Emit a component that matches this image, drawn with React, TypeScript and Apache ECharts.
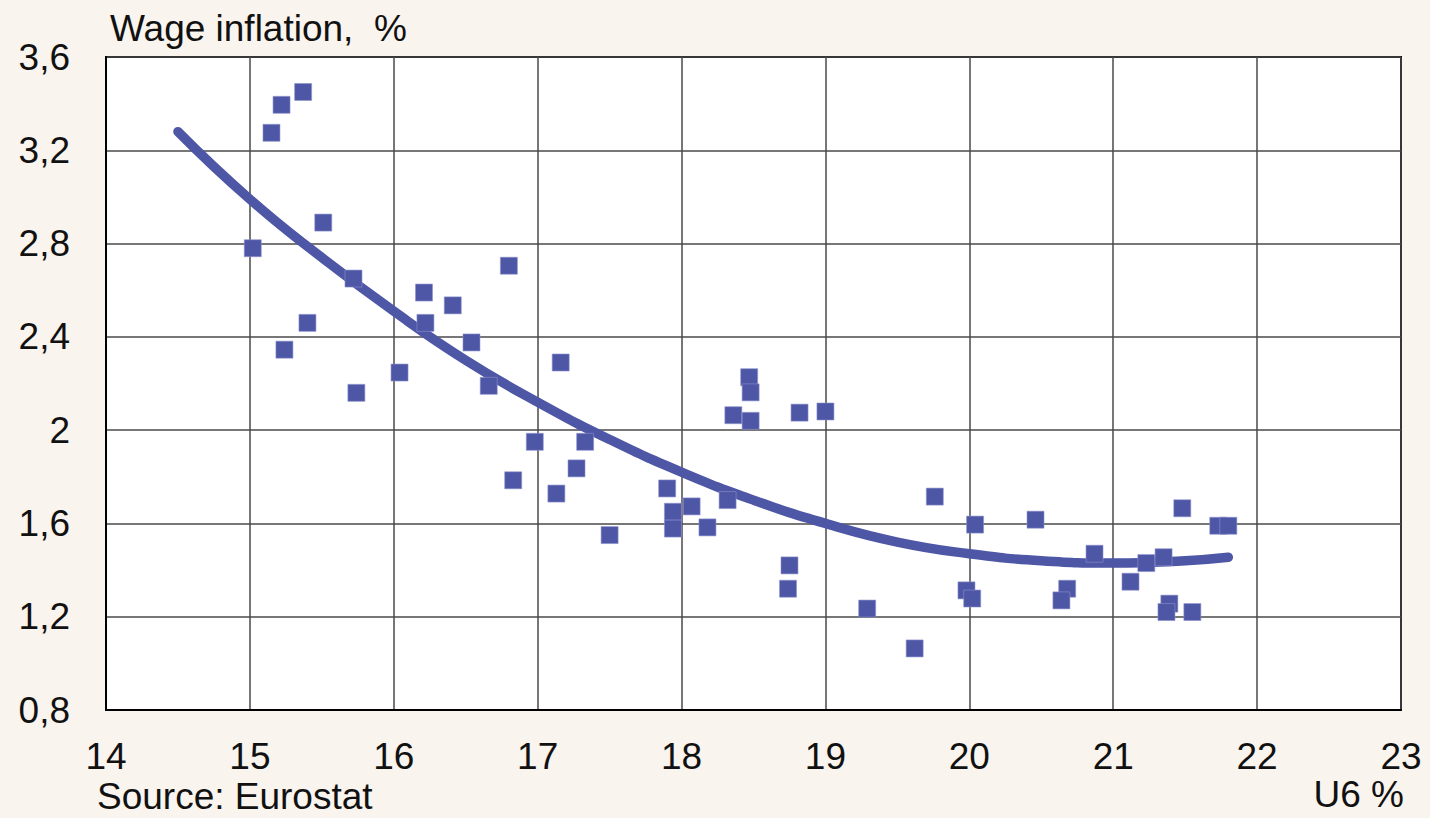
import React, { useEffect, useRef } from "react";
import * as echarts from "echarts";

// U6 unemployment (%) vs wage inflation (%)
const u6Values: number[] = [
  15.02, 15.15, 15.22, 15.37, 15.24, 15.40, 15.51, 15.72, 15.74, 16.04,
  16.21, 16.22, 16.41, 16.54, 16.66, 16.80, 16.83, 16.98, 17.13, 17.16,
  17.27, 17.33, 17.50, 17.90, 17.94, 17.94, 18.07, 18.18, 18.32, 18.47,
  18.48, 18.36, 18.48, 18.82, 19.00, 18.75, 18.74, 19.29, 19.62, 19.76,
  20.04, 19.98, 20.02, 20.46, 20.87, 20.68, 20.64, 21.12, 21.23, 21.35,
  21.48, 21.73, 21.80, 21.39, 21.37, 21.55,
];
const wageValues: number[] = [
  2.78, 3.275, 3.395, 3.45, 2.345, 2.46, 2.89, 2.65, 2.16, 2.247,
  2.59, 2.46, 2.535, 2.376, 2.19, 2.705, 1.785, 1.95, 1.728, 2.29,
  1.836, 1.95, 1.55, 1.75, 1.65, 1.578, 1.673, 1.583, 1.70, 2.227,
  2.162, 2.064, 2.04, 2.075, 2.08, 1.42, 1.32, 1.235, 1.064, 1.715,
  1.595, 1.313, 1.278, 1.616, 1.47, 1.32, 1.27, 1.35, 1.43, 1.455,
  1.665, 1.59, 1.59, 1.256, 1.22, 1.22,
];

// Trend line
const trendX: number[] = [14.5, 15, 15.5, 16, 16.5, 17, 17.5, 18, 18.5, 19, 19.5, 20, 20.5, 21, 21.5, 21.8];
const trendY: number[] = [3.28, 2.99, 2.74, 2.51, 2.30, 2.12, 1.96, 1.82, 1.70, 1.60, 1.52, 1.47, 1.44, 1.43, 1.44, 1.455];

const xTicks = { min: 14, max: 23, interval: 1 };
const yTicks = { min: 0.8, max: 3.6, interval: 0.4 };

const titleText = "Wage inflation,  %";
const xAxisTitle = "U6 %";
const sourceText = "Source: Eurostat";

const FONT = "'Liberation Sans', Arial, sans-serif";
const BLUE = "#4E56A6";

export default function App() {
  const ref = useRef<HTMLDivElement>(null);

  useEffect(() => {
    if (!ref.current) return;
    const chart = echarts.init(ref.current, undefined, { renderer: "svg" });
    const scatterData = u6Values.map((x, i) => [x, wageValues[i]]);
    const trendData = trendX.map((x, i) => [x, trendY[i]]);

    chart.setOption({
      animation: false,
      backgroundColor: "#F9F4EE",
      textStyle: { fontFamily: FONT },
      grid: {
        left: 106,
        right: 29,
        top: 57,
        bottom: 108,
        show: true,
        backgroundColor: "#ffffff",
        borderColor: "#000000",
        borderWidth: 2,
      },
      xAxis: {
        type: "value",
        min: xTicks.min,
        max: xTicks.max,
        interval: xTicks.interval,
        axisLine: { show: true, onZero: false, lineStyle: { color: "#000", width: 2 } },
        axisTick: { show: false },
        splitLine: { show: true, lineStyle: { color: "#4a4a4a", width: 1.5 } },
        axisLabel: {
          color: "#111",
          fontSize: 37,
          fontFamily: FONT,
          margin: 28,
          showMaxLabel: true,
          showMinLabel: true,
        },
      },
      yAxis: {
        type: "value",
        min: yTicks.min,
        max: yTicks.max,
        interval: yTicks.interval,
        axisLine: { show: true, onZero: false, lineStyle: { color: "#000", width: 2 } },
        axisTick: { show: false },
        splitLine: { show: true, lineStyle: { color: "#4a4a4a", width: 1.5 } },
        axisLabel: {
          color: "#111",
          fontSize: 37,
          fontFamily: FONT,
          margin: 36,
          formatter: (v: number) => {
            const r = Math.round(v * 10) / 10;
            return String(r).replace(".", ",");
          },
        },
      },
      graphic: [
        {
          type: "text",
          left: 110,
          top: 10,
          style: {
            text: titleText,
            fill: "#111",
            font: `37px ${FONT}`,
          },
        },
        {
          type: "text",
          right: 26,
          top: 776,
          style: {
            text: xAxisTitle,
            fill: "#111",
            font: `37px ${FONT}`,
          },
        },
        {
          type: "text",
          left: 97,
          top: 778,
          style: {
            text: sourceText,
            fill: "#111",
            font: `37px ${FONT}`,
          },
        },
      ],
      series: [
        {
          type: "line",
          data: trendData,
          smooth: true,
          showSymbol: false,
          symbol: "none",
          lineStyle: { color: BLUE, width: 9.5, cap: "round" },
          z: 2,
        },
        {
          type: "scatter",
          data: scatterData,
          symbol: "rect",
          symbolSize: 17,
          itemStyle: { color: BLUE, borderColor: "#8f94cc", borderWidth: 0.6, opacity: 1 },
          z: 3,
        },
      ],
    });

    return () => chart.dispose();
  }, []);

  return (
    <div
      ref={ref}
      style={{ position: "absolute", left: 0, top: 0, width: 1430, height: 818 }}
    />
  );
}
